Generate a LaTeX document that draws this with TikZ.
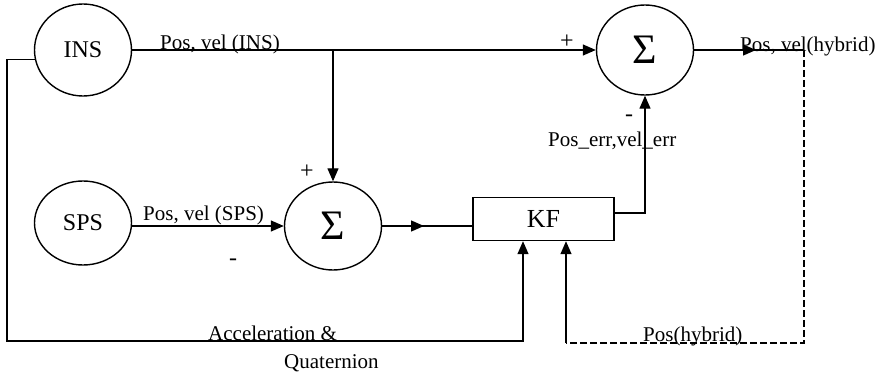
\documentclass[tikz,border=0pt]{standalone}
\usepackage{fontspec}
\setmainfont{Liberation Serif}
\usetikzlibrary{shapes.geometric,arrows.meta}
\begin{document}
\begin{tikzpicture}[x=1pt,y=-1pt,
  blk/.style={draw,line width=1.4pt,ellipse,minimum width=97pt,minimum height=92pt,inner sep=0pt,font=\fontsize{24}{26}\selectfont},
  sumnode/.style={blk,font=\fontsize{42}{44}\selectfont},
  kfbox/.style={draw,line width=1.4pt,rectangle,minimum width=141pt,minimum height=43pt,inner sep=0pt,font=\fontsize{26}{28}\selectfont},
  conn/.style={line width=1.3pt},
  arr/.style={conn,-{Triangle[length=13pt,width=11pt]}},
  lbl/.style={font=\fontsize{21}{23}\selectfont,inner sep=0pt,anchor=base west},
  sgn/.style={font=\fontsize{24}{26}\selectfont,inner sep=0pt}
]
\useasboundingbox (0,0) rectangle (883,375);
\node[blk] (INS) at (83,50) {INS};
\node[blk, minimum height=84pt] (SPS) at (83,223) {SPS};
\node[sumnode, minimum height=90pt] (S1) at (645,50) {Σ};
\node[sumnode, minimum height=88pt] (S2) at (333,226) {Σ};
\node[kfbox] (KF) at (543.5,219) {KF};

\coordinate (J) at (333,50);
\coordinate (O) at (804,50);
\coordinate (M1) at (756,50);
\coordinate (M2) at (424,226);
\coordinate (C1) at (804,343);
\coordinate (C2) at (566,343);
\coordinate (L1) at (7,341);
\coordinate (L2) at (523,341);

% INS to upper sum
\draw[arr] (INS.east) -- (S1.west);
\draw[arr] (J) -- (S2.north);
% SPS to lower sum
\draw[arr] (S2.west -| SPS.east) -- (S2.west);
% lower sum to KF
\draw[conn] (S2.east) -- (KF.west |- S2.east);
\draw[arr] (S2.east) -- (M2);
% KF to upper sum
\draw[arr] ([yshift=6pt]KF.east) -| (S1.south);
% output
\draw[conn] (S1.east) -- (O);
\draw[arr] (S1.east) -- (M1);
% feedback dashed
\draw[line width=1.1pt,dash pattern=on 7pt off 3pt] (O) -- (C1) -- (C2);
\draw[arr] (C2) -- (C2 |- KF.south);
% left loop
\draw[arr] (INS.191) -| (L1) -- (L2) -- (L2 |- KF.south);

% labels
\node[lbl] (t1) at (160,49) {Pos, vel (INS)};
\node[lbl] (t2) at (143,220) {Pos, vel (SPS)};
\node[lbl] (t3) at (740,51) {Pos, vel(hybrid)};
\node[lbl] (t4) at (548,146) {Pos\_err,vel\_err};
\node[lbl] (t5) at (643,341) {Pos(hybrid)};
\node[lbl] (t6) at (208,340) {Acceleration \&};
\node[lbl] (t7) at (284,368) {Quaternion};

% signs
\node[sgn] (p1) at (567,42) {+};
\node[sgn] (m1) at (629,118) {-};
\node[sgn] (p2) at (307,172) {+};
\node[sgn] (m2) at (233,262) {-};
\end{tikzpicture}
\end{document}
